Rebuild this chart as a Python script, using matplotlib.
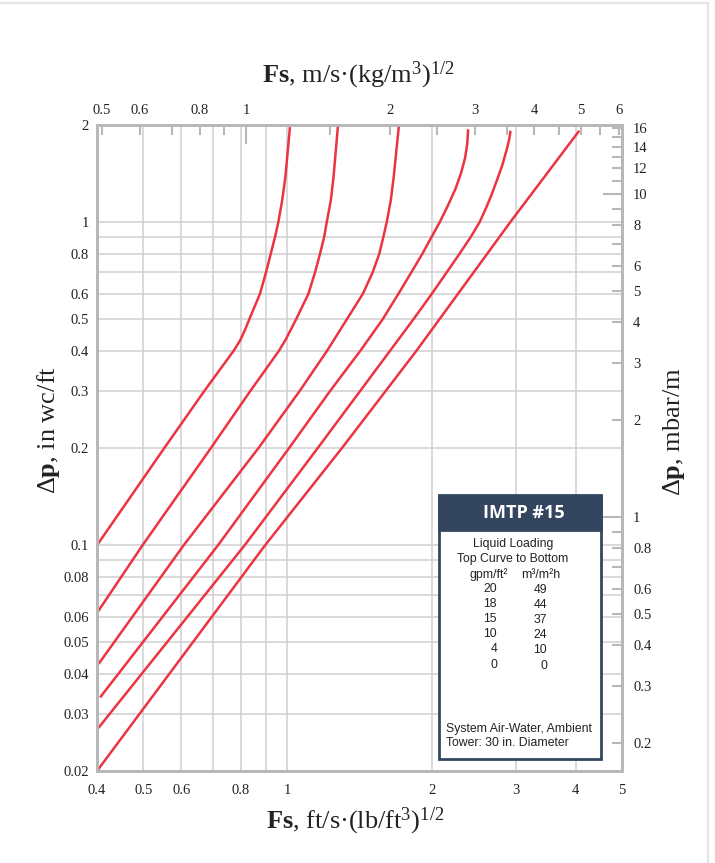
import matplotlib.pyplot as plt
from matplotlib.patches import Rectangle
from matplotlib.lines import Line2D

plt.rcParams['mathtext.fontset'] = 'custom'
plt.rcParams['mathtext.rm'] = 'Liberation Serif'
plt.rcParams['mathtext.bf'] = 'Liberation Serif:bold'
plt.rcParams['mathtext.it'] = 'Liberation Serif:italic'

# Fs in ft/s(lb/ft3)^0.5, pressure drop in in wc/ft, one pair per liquid rate
fs_20 = [0.4, 0.553, 0.670, 0.772, 0.796, 0.815, 0.832, 0.876, 0.902, 0.923, 0.942, 0.957, 0.975, 0.990, 1.012]
dp_20 = [0.1, 0.2, 0.3, 0.4, 0.43, 0.464, 0.5, 0.6, 0.7, 0.8, 0.9, 1.0, 1.17, 1.38, 1.97]

fs_18 = [0.4, 0.498, 0.692, 0.836, 0.960, 0.993, 1.042, 1.106, 1.142, 1.170, 1.193, 1.208, 1.232, 1.248, 1.275]
dp_18 = [0.0617, 0.1, 0.2, 0.3, 0.4, 0.435, 0.5, 0.6, 0.7, 0.8, 0.9, 1.0, 1.17, 1.38, 1.99]

fs_15 = [0.403, 0.607, 0.87, 1.06, 1.21, 1.33, 1.437, 1.507, 1.556, 1.586, 1.612, 1.644, 1.667, 1.71]
dp_15 = [0.0429, 0.1, 0.2, 0.3, 0.4, 0.5, 0.6, 0.7, 0.8, 0.9, 1.0, 1.17, 1.38, 2.0]

fs_10 = [0.406, 0.716, 1.008, 1.227, 1.42, 1.58, 1.705, 1.815, 1.915, 2.0, 2.08, 2.16, 2.245, 2.305, 2.35, 2.375, 2.385]
dp_10 = [0.0338, 0.1, 0.2, 0.3, 0.4, 0.5, 0.6, 0.7, 0.8, 0.9, 1.0, 1.12, 1.27, 1.42, 1.58, 1.75, 1.94]

fs_4 = [0.402, 0.814, 1.157, 1.418, 1.638, 1.832, 2.002, 2.152, 2.29, 2.415, 2.52, 2.595, 2.66, 2.74, 2.81, 2.87, 2.905, 2.925]
dp_4 = [0.0271, 0.1, 0.2, 0.3, 0.4, 0.5, 0.6, 0.7, 0.8, 0.9, 1.0, 1.1, 1.2, 1.35, 1.5, 1.674, 1.8, 1.92]

fs_0 = [0.4, 0.898, 1.30, 1.86, 2.92, 4.07]
dp_0 = [0.02, 0.1, 0.2, 0.4, 1.0, 1.92]

curves = [(fs_20, dp_20), (fs_18, dp_18), (fs_15, dp_15), (fs_10, dp_10), (fs_4, dp_4), (fs_0, dp_0)]

gpm = ["20", "18", "15", "10", "4", "0"]
m3 = ["49", "44", "37", "24", "10", "0"]

bottom_ticks = [0.4, 0.5, 0.6, 0.8, 1, 2, 3, 4, 5]
bottom_grid = [0.5, 0.6, 0.7, 0.8, 0.9, 1, 2, 3, 4]
left_ticks = [0.02, 0.03, 0.04, 0.05, 0.06, 0.08, 0.1, 0.2, 0.3, 0.4, 0.5, 0.6, 0.8, 1, 2]
left_grid = [0.03, 0.04, 0.05, 0.06, 0.07, 0.08, 0.09, 0.1,
             0.2, 0.3, 0.4, 0.5, 0.6, 0.7, 0.8, 0.9, 1.0]
top_minor = [0.5, 0.6, 0.7, 0.8, 0.9, 1.5, 2, 2.5, 3, 3.5, 4, 4.5, 5, 5.5, 6]
right_minor = [0.2, 0.3, 0.4, 0.5, 0.6, 0.7, 0.8, 0.9, 2, 3, 4, 5, 6, 7, 8, 9, 11, 12, 13, 14, 15, 16]

FS_SI = 1.2199   # ft/s(lb/ft3)^0.5 -> m/s(kg/m3)^0.5
DP_SI = 8.1722   # in wc/ft -> mbar/m

def lab(v):
    return ("%g" % v)

serif = 'Liberation Serif'
gray = '#b8b8b8'
red = '#ec3440'
navy = '#34465f'

fig = plt.figure(figsize=(7.15, 8.63), dpi=100)
ax = fig.add_axes([97/715, 1 - 771/863, 525/715, 646/863])

for fs, dp in curves:
    ax.plot(fs, dp, color=red, lw=1.8, solid_capstyle='butt', solid_joinstyle='round', zorder=3)

ax.set_xscale('log')
ax.set_yscale('log')
ax.set_xlim(0.4, 5)
ax.set_ylim(0.02, 2)

ax.xaxis.remove_overlapping_locs = False
ax.yaxis.remove_overlapping_locs = False
ax.set_xticks(bottom_ticks, [lab(v) for v in bottom_ticks])
ax.set_xticks(bottom_grid, minor=True)
ax.xaxis.set_minor_formatter(plt.NullFormatter())
ax.set_yticks(left_ticks, [lab(v) for v in left_ticks])
ax.set_yticks(left_grid, minor=True)
ax.yaxis.set_minor_formatter(plt.NullFormatter())
ax.grid(which='minor', color='#cfcfcf', lw=1.1)
ax.grid(which='major', visible=False)
ax.tick_params(which='both', length=0, labelsize=10.5, labelfontfamily=serif, labelcolor='#222222')
ax.tick_params(axis='x', pad=9)
ax.tick_params(axis='y', pad=6)

for s in ax.spines.values():
    s.set_color(gray)
    s.set_linewidth(1.8)

# top axis in SI units
ax_t = ax.twiny()
ax_t.set_xscale('log')
ax_t.set_xlim(0.4 * FS_SI, 5 * FS_SI)
ax_t.set_xticks([1], ['1'])
ax_t.set_xticks(top_minor, [lab(v) if v in (0.5, 0.6, 0.8, 2, 3, 4, 5, 6) else '' for v in top_minor], minor=True)
ax_t.tick_params(which='both', direction='in', color=gray, width=1.5, labelsize=10.5,
                 labelfontfamily=serif, labelcolor='#222222', pad=6)
ax_t.tick_params(which='major', length=14)
ax_t.tick_params(which='minor', length=7)

# right axis in SI units
ax_r = ax.twinx()
ax_r.set_yscale('log')
ax_r.set_ylim(0.02 * DP_SI, 2 * DP_SI)
ax_r.set_yticks([1, 10], ['1', '10'])
ax_r.set_yticks(right_minor, [lab(v) if v not in (0.7, 0.9, 7, 9, 11, 13, 15) else '' for v in right_minor], minor=True)
ax_r.tick_params(which='both', direction='in', color=gray, width=1.5, labelsize=10.5,
                 labelfontfamily=serif, labelcolor='#222222', pad=8)
ax_r.tick_params(which='major', length=14)
ax_r.tick_params(which='minor', length=7)

for a in (ax_t, ax_r):
    for s in a.spines.values():
        s.set_color(gray)
        s.set_linewidth(1.8)

fig.text(358/715, 1 - 75/863, r'$\mathbf{Fs}$, m/s·(kg/m$^3$)$^{1/2}$', ha='center', va='center',
         fontsize=19, family=serif, color='#222222')
fig.text(355/715, 1 - 821/863, r'$\mathbf{Fs}$, ft/s·(lb/ft$^3$)$^{1/2}$', ha='center', va='center',
         fontsize=19, family=serif, color='#222222')
fig.text(49/715, 1 - 430/863, r'Δ$\mathbf{p}$, in wc/ft', rotation=90, ha='center', va='center',
         fontsize=19, family=serif, color='#222222')
fig.text(674/715, 1 - 432/863, r'Δ$\mathbf{p}$, mbar/m', rotation=90, ha='center', va='center',
         fontsize=19, family=serif, color='#222222')

# legend box
bx0, bx1 = 439/715, 600.5/715
fig.add_artist(Rectangle((bx0, 1 - 759/863), bx1 - bx0, 264/863, transform=fig.transFigure,
                         facecolor='white', edgecolor=navy, lw=2, zorder=5))
fig.add_artist(Rectangle((bx0, 1 - 529.5/863), bx1 - bx0, 34/863, transform=fig.transFigure,
                         facecolor=navy, edgecolor=navy, lw=2, zorder=6))
fig.text(524/715, 1 - 513/863, 'IMTP #15', ha='center', va='center', color='white',
         fontsize=13, fontweight='bold', family='Open Sans', zorder=7)

small = dict(fontsize=8.8, family='Liberation Sans', color='#222222', zorder=7, va='center')
fig.text(513/715, 1 - 543.5/863, 'Liquid Loading', ha='center', **small)
fig.text(513/715, 1 - 559/863, 'Top Curve to Bottom', ha='center', **small)
fig.text(489/715, 1 - 575/863, 'gpm/ft²', ha='center', **small)
fig.text(540.5/715, 1 - 575/863, 'm³/m²h', ha='center', **small)
for i in range(len(gpm)):
    yy = 1 - (589 + i * 15.1) / 863
    fig.text(497/715, yy, gpm[i], ha='right', **small)
    fig.text(547/715, yy - 0.0012, m3[i], ha='right', **small)
fig.text(446.5/715, 1 - 728.5/863, 'System Air-Water, Ambient', ha='left', **small)
fig.text(446.5/715, 1 - 743/863, 'Tower: 30 in. Diameter', ha='left', **small)

# faint card border of the original page
fig.add_artist(Line2D([0, 708/715], [1 - 3/863, 1 - 3/863], transform=fig.transFigure, color='#e4e4e4', lw=1.5))
fig.add_artist(Line2D([708/715, 708/715], [0, 1 - 3/863], transform=fig.transFigure, color='#e4e4e4', lw=1.5))

fig.savefig('out.png', dpi=100)
